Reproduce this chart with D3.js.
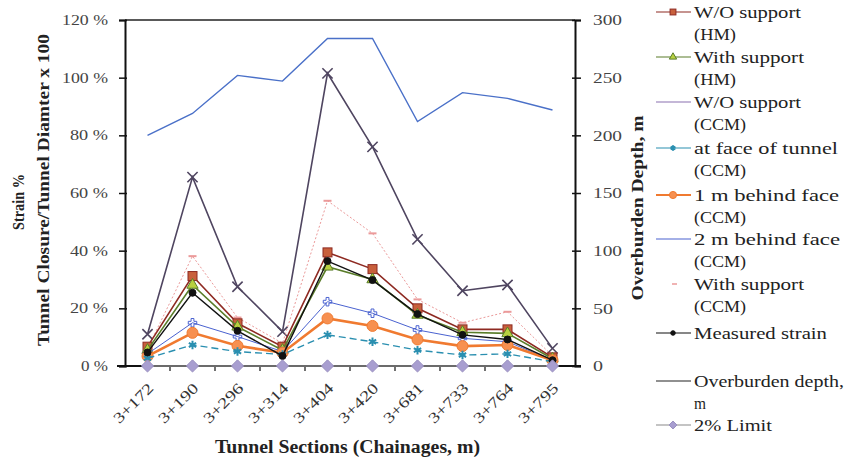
<!DOCTYPE html>
<html>
<head>
<meta charset="utf-8">
<script src="https://cdnjs.cloudflare.com/ajax/libs/d3/7.8.5/d3.min.js"></script>
<style>
  body { margin: 0; background: #fff; }
  svg text { font-family: "Times New Roman", "Liberation Serif", Times, serif; }
</style>
</head>
<body>
<div class="canva"></div>
<script>
const categories = ["3+172", "3+190", "3+296", "3+314", "3+404", "3+420", "3+681", "3+733", "3+764", "3+795"]

// strain values in %
const woSupportHM    = [6.7, 31.2, 14.8, 6.7, 39.4, 33.6, 20.0, 12.7, 12.7, 3.0]
const withSupportHM  = [5.5, 28.1, 13.6, 5.5, 34.4, 30.0, 17.7, 11.7, 11.3, 2.5]
const woSupportCCM   = [11.0, 65.5, 27.5, 11.9, 101.5, 76.0, 43.9, 26.1, 28.1, 6.1]
const atFaceCCM      = [2.7, 7.3, 5.0, 4.0, 10.8, 8.4, 5.5, 3.8, 4.2, 1.5]
const behind1mCCM    = [3.4, 11.5, 7.0, 4.6, 16.5, 13.9, 9.2, 6.9, 7.3, 2.0]
const behind2mCCM    = [4.2, 15.0, 10.2, 5.0, 22.3, 18.3, 12.5, 9.6, 8.4, 2.0]
const withSupportCCM = [6.0, 38.1, 16.8, 7.9, 57.3, 46.0, 23.1, 15.0, 18.8, 3.5]
const measuredStrain = [4.7, 25.4, 12.2, 3.5, 36.4, 29.8, 18.0, 10.8, 9.2, 2.0]
const limit2         = [0.02, 0.02, 0.02, 0.02, 0.02, 0.02, 0.02, 0.02, 0.02, 0.02]

// overburden depth in m (right axis)
const overburden = [200, 219, 252, 247, 284, 284, 212, 237, 232, 222]

const leftTicks = [0, 20, 40, 60, 80, 100, 120]
const rightTicks = [0, 50, 100, 150, 200, 250, 300]

const W = 846, H = 459
const pLeft = 125, pRight = 575, pTop = 20, pBottom = 366
const SERIF = '"Times New Roman", "Liberation Serif", Times, serif'

const svg = d3.select(".canva").append("svg")
    .attr("width", W)
    .attr("height", H)

// the scanned figure has wide type: fit a text to a measured width
function fitWidth(sel, w) {
    sel.attr("textLength", w).attr("lengthAdjust", "spacingAndGlyphs")
}

const x = d3.scalePoint().domain(categories).range([pLeft, pRight]).padding(0.5)
const y = d3.scaleLinear().domain([0, 120]).range([pBottom, pTop])
const y2 = d3.scaleLinear().domain([0, 300]).range([pBottom, pTop])

// frame
svg.append("line").attr("x1", pLeft).attr("x2", pRight).attr("y1", pTop).attr("y2", pTop)
    .attr("stroke", "#222").attr("stroke-width", 1.5)

// left axis
const gl = svg.append("g").attr("transform", `translate(${pLeft},0)`)
    .call(d3.axisLeft(y).tickValues(leftTicks).tickSize(6).tickFormat(d => d + " %"))
gl.attr("font-family", SERIF)
gl.select(".domain").attr("stroke", "#111").attr("stroke-width", 2)
gl.selectAll(".tick line").attr("stroke", "#111").attr("stroke-width", 1.5).attr("x2", -6).attr("x1", 2)
gl.selectAll(".tick text").attr("font-size", 14).attr("fill", "#444").attr("x", -17)
gl.selectAll(".tick text").each(function (d) {
    fitWidth(d3.select(this), d >= 100 ? 46 : d > 0 ? 38 : 27)
})

// right axis
const gr = svg.append("g").attr("transform", `translate(${pRight},0)`)
    .call(d3.axisRight(y2).tickValues(rightTicks).tickSize(6))
gr.attr("font-family", SERIF)
gr.select(".domain").attr("stroke", "#111").attr("stroke-width", 2)
gr.selectAll(".tick line").attr("stroke", "#111").attr("stroke-width", 1.5).attr("x1", -3)
gr.selectAll(".tick text").attr("font-size", 15).attr("fill", "#444").attr("x", 18)
gr.selectAll(".tick text").each(function (d) {
    fitWidth(d3.select(this), d >= 100 ? 29 : d > 0 ? 20 : 10)
})

// bottom axis, ticks between categories
const gb = svg.append("g").attr("transform", `translate(0,${pBottom})`)
gb.append("line").attr("x1", pLeft - 8).attr("x2", pRight + 6).attr("stroke", "#111").attr("stroke-width", 2)
const step = x.step()
gb.selectAll(".btick").data(d3.range(1, categories.length)).enter().append("line")
    .attr("x1", d => pLeft + d * step).attr("x2", d => pLeft + d * step)
    .attr("y1", 0).attr("y2", 5).attr("stroke", "#111").attr("stroke-width", 1.2)
const xl = gb.selectAll(".blab").data(categories).enter().append("text")
    .attr("transform", d => `translate(${x(d) + 7},${23}) rotate(-45)`)
    .attr("text-anchor", "end")
    .attr("font-size", 15).attr("fill", "#333")
    .text(d => d)
fitWidth(xl, 50)

// axis titles
const t1 = svg.append("text").attr("transform", "translate(24,202) rotate(-90)")
    .attr("text-anchor", "middle").attr("font-weight", "bold").attr("font-size", 16).attr("fill", "#222")
    .text("Strain %")
fitWidth(t1, 56)
const t2 = svg.append("text").attr("transform", "translate(49,190) rotate(-90)")
    .attr("text-anchor", "middle").attr("font-weight", "bold").attr("font-size", 17).attr("fill", "#222")
    .text("Tunnel Closure/Tunnel Diamter x 100")
fitWidth(t2, 312)
const t3 = svg.append("text").attr("transform", "translate(643,208) rotate(-90)")
    .attr("text-anchor", "middle").attr("font-weight", "bold").attr("font-size", 17).attr("fill", "#222")
    .text("Overburden Depth, m")
fitWidth(t3, 185)
const xt = svg.append("text").attr("x", 215).attr("y", 453)
    .attr("font-weight", "bold").attr("font-size", 18).attr("fill", "#222")
    .text("Tunnel Sections (Chainages, m)")
fitWidth(xt, 265)

// markers
function drawMarker(g, type, cx, cy, color, fill, k) {
    k = k || 1
    if (type === "square") {
        g.append("rect").attr("x", cx - 4.5 * k).attr("y", cy - 4.5 * k).attr("width", 9 * k).attr("height", 9 * k)
            .attr("fill", fill).attr("stroke", color).attr("stroke-width", 1)
    } else if (type === "triangle") {
        g.append("path").attr("d", d3.symbol(d3.symbolTriangle, 55 * k * k)()).attr("transform", `translate(${cx},${cy})`)
            .attr("fill", fill).attr("stroke", color).attr("stroke-width", 1)
    } else if (type === "x") {
        g.append("path").attr("d", d3.symbol(d3.symbolX, 70 * k * k)()).attr("transform", `translate(${cx},${cy})`)
            .attr("fill", "none").attr("stroke", color).attr("stroke-width", 1.6)
    } else if (type === "star") {
        g.append("path").attr("d", d3.symbol(d3.symbolAsterisk, 50 * k * k)()).attr("transform", `translate(${cx},${cy})`)
            .attr("fill", "none").attr("stroke", color).attr("stroke-width", 2)
    } else if (type === "circle") {
        g.append("circle").attr("cx", cx).attr("cy", cy).attr("r", 5.5 * k)
            .attr("fill", fill).attr("stroke", color).attr("stroke-width", 1)
    } else if (type === "plus") {
        g.append("path").attr("d", d3.symbol(d3.symbolCross, 40 * k * k)()).attr("transform", `translate(${cx},${cy})`)
            .attr("fill", "none").attr("stroke", color).attr("stroke-width", 1)
    } else if (type === "dash") {
        g.append("line").attr("x1", cx - 4 * k).attr("x2", cx + 4 * k).attr("y1", cy).attr("y2", cy)
            .attr("stroke", color).attr("stroke-width", 2)
    } else if (type === "dot") {
        g.append("circle").attr("cx", cx).attr("cy", cy).attr("r", 3.5 * k)
            .attr("fill", fill).attr("stroke", color).attr("stroke-width", 1)
    } else if (type === "diamond") {
        g.append("path").attr("d", d3.symbol(d3.symbolDiamond2, 95 * k * k)()).attr("transform", `translate(${cx},${cy})`)
            .attr("fill", fill).attr("stroke", "#9a90c0").attr("stroke-width", 1)
    }
}

const series = [
    { name: ["W/O support", "(HM)"], values: woSupportHM, color: "#8e2a22", fill: "#c8603c", width: 1.6, marker: "square", dash: null },
    { name: ["With support", "(HM)"], values: withSupportHM, color: "#5a7d2a", fill: "#b8d040", width: 1.6, marker: "triangle", dash: null },
    { name: ["W/O support", "(CCM)"], values: woSupportCCM, color: "#4f4560", fill: "none", width: 1.6, marker: "x", dash: null, legendColor: "#8a70b0" },
    { name: ["at face of tunnel", "(CCM)"], values: atFaceCCM, color: "#2a8fb0", fill: "none", width: 1.4, marker: "star", dash: "7,4" },
    { name: ["1 m behind face", "(CCM)"], values: behind1mCCM, color: "#f07a30", fill: "#f79050", width: 2.6, marker: "circle", dash: null },
    { name: ["2 m behind face", "(CCM)"], values: behind2mCCM, color: "#4a62d0", fill: "none", width: 1, marker: "plus", dash: null },
    { name: ["With support", "(CCM)"], values: withSupportCCM, color: "#eb9a9a", fill: "none", width: 1, marker: "dash", dash: "2,2" },
    { name: ["Measured strain"], values: measuredStrain, color: "#111", fill: "#111", width: 1.4, marker: "dot", dash: null },
    { name: ["Overburden depth,", "m"], values: overburden, color: "#4a70c8", fill: "none", width: 1.4, marker: null, dash: null, axis: "right", legendColor: "#222" },
    { name: ["2% Limit"], values: limit2, color: "#8a8a8a", fill: "#a89ed0", width: 1.4, marker: "diamond", dash: null }
]

// legend text widths
const legendWidths = [[107, 42], [110, 42], [107, 52], [144, 52], [145, 52], [146, 52], [110, 52], [133], [150, 12], [78]]

const plot = svg.append("g")
const drawOrder = [8, 2, 6, 0, 1, 5, 4, 3, 7, 9]
drawOrder.forEach(si => {
    const s = series[si]
    const ys = s.axis === "right" ? y2 : y
    const line = d3.line().x((d, i) => x(categories[i])).y(d => ys(d))
    plot.append("path").datum(s.values)
        .attr("d", line)
        .attr("fill", "none")
        .attr("stroke", s.color)
        .attr("stroke-width", s.width)
        .attr("stroke-dasharray", s.dash)
    if (s.marker) {
        const mg = plot.append("g")
        s.values.forEach((v, i) => drawMarker(mg, s.marker, x(categories[i]), ys(v), s.color, s.fill))
    }
})

// legend
const leg = svg.append("g")
const legY = [12, 57, 102, 148, 195, 239, 284, 333, 381, 425]
series.forEach((s, i) => {
    const yy = legY[i]
    const c = s.legendColor || s.color
    if (i === 6) {
        leg.append("line").attr("x1", 672).attr("x2", 677).attr("y1", yy).attr("y2", yy)
            .attr("stroke", c).attr("stroke-width", 1.5)
    } else {
        leg.append("line").attr("x1", 656).attr("x2", 691).attr("y1", yy).attr("y2", yy)
            .attr("stroke", c).attr("stroke-width", i === 4 ? 2 : 1.2)
        if (s.marker && s.marker !== "x" && s.marker !== "plus") {
            drawMarker(leg, s.marker, 673, yy, c, s.fill, 0.65)
        }
    }
    s.name.forEach((t, k) => {
        const tx = leg.append("text").attr("x", 694).attr("y", yy + 6 + k * 22)
            .attr("font-size", 17).attr("fill", "#222")
            .text(t)
        fitWidth(tx, legendWidths[i][k])
    })
})
</script>
</body>
</html>
